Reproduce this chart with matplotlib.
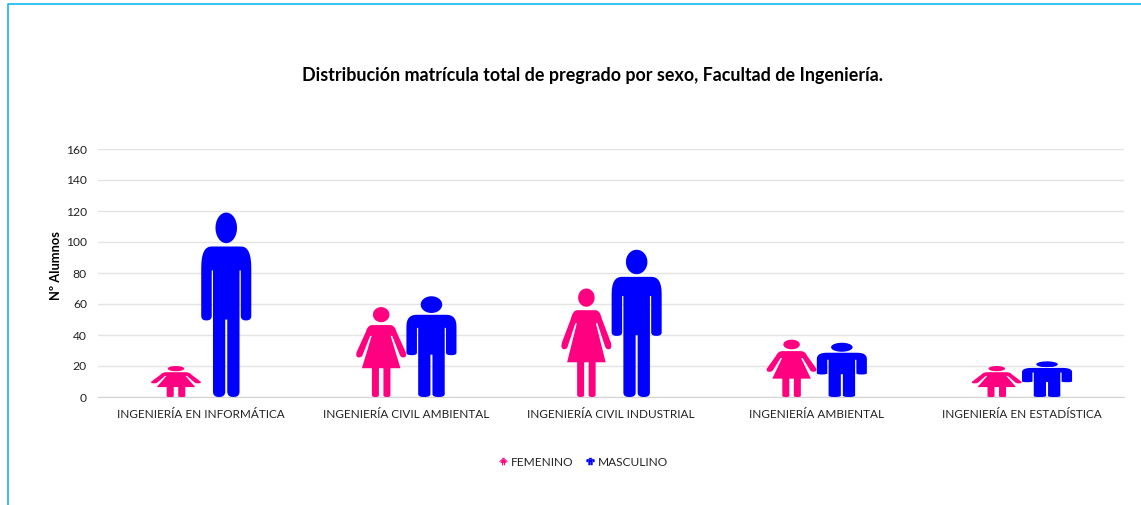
import matplotlib
matplotlib.use("Agg")
import matplotlib.pyplot as plt
import numpy as np
from matplotlib.lines import Line2D
from matplotlib.patches import PathPatch
from matplotlib.path import Path

carreras = ["INGENIERÍA EN INFORMÁTICA", "INGENIERÍA CIVIL AMBIENTAL", "INGENIERÍA CIVIL INDUSTRIAL",
            "INGENIERÍA AMBIENTAL", "INGENIERÍA EN ESTADÍSTICA"]
femenino = [20, 58, 70, 37, 20]
masculino = [119, 65, 95, 35, 23]
yticks = [0, 20, 40, 60, 80, 100, 120, 140, 160]

ROSA = "#ff0080"
AZUL = "#0000ff"
W = 1141
H = 505
ANCHO = 0.244  # ancho de cada figura en unidades de categoria
OFFSET_F = 0.12
OFFSET_M = 0.125


def q(p0, c, p1):
    t = np.linspace(0, 1, 8)[:, None]
    p0, c, p1 = np.array(p0), np.array(c), np.array(p1)
    return list((1 - t) ** 2 * p0 + 2 * t * (1 - t) * c + t ** 2 * p1)


def figura(mitad, head):
    # mitad derecha + espejo, mas la cabeza como elipse
    pts = np.array([np.array(p, dtype=float) for p in mitad])
    esp = pts[::-1] * [-1, 1]
    cuerpo = np.vstack([pts, esp, pts[:1]])
    cx, cy, rx, ry = head
    a = np.linspace(0, 2 * np.pi, 60)
    cabeza = np.column_stack([cx + rx * np.cos(a), cy + ry * np.sin(a)])
    return Path.make_compound_path(Path(cuerpo, closed=True), Path(cabeza, closed=True))


hombre = figura(
    [(0, .816), (.3, .816), *q((.3, .816), (.5, .816), (.5, .70)), (.5, .44),
     *q((.5, .44), (.5, .415), (.395, .415)), *q((.395, .415), (.29, .415), (.29, .44)),
     (.29, .686), (.265, .686), (.265, .03), *q((.265, .03), (.265, 0), (.145, 0)),
     *q((.145, 0), (.02, 0), (.02, .03)), (.02, .42), (0, .42)],
    (0, .917, .215, .083))

mujer = figura(
    [(0, .80), (.18, .80), *q((.18, .80), (.27, .80), (.31, .72)), (.49, .50),
     *q((.49, .50), (.52, .44), (.44, .44)), *q((.44, .44), (.39, .44), (.37, .47)),
     (.22, .68), (.19, .68), (.385, .32), (.185, .32), (.185, .02),
     *q((.185, .02), (.185, 0), (.115, 0)), *q((.115, 0), (.045, 0), (.045, .02)),
     (.045, .32), (0, .32)],
    (0, .916, .165, .084))


def pinta(ax, shape, x, valor, color):
    v = shape.vertices * [ANCHO, valor] + [x, 0]
    ax.add_patch(PathPatch(Path(v, shape.codes), fc=color, ec="none", zorder=3))


plt.rcParams["font.family"] = ["Lato", "DejaVu Sans"]
fig = plt.figure(figsize=(W / 100, H / 100), dpi=100)
ax = fig.add_axes([98 / W, (H - 397) / H, 1026 / W, 248 / H])

for i in range(len(carreras)):
    pinta(ax, mujer, i - OFFSET_F, femenino[i], ROSA)
    pinta(ax, hombre, i + OFFSET_M, masculino[i], AZUL)

ax.set_xlim(-0.5, 4.5)
ax.set_ylim(0, 160)
ax.set_yticks(yticks)
ax.set_xticks(range(len(carreras)))
ax.set_xticklabels(carreras, fontsize=8.45, color="#222222")
ax.tick_params(axis="both", length=0, labelcolor="#222222")
ax.tick_params(axis="x", pad=9)
ax.tick_params(axis="y", pad=8, labelsize=8.7)
ax.grid(axis="y", color="#e4e4e4", lw=1)
ax.set_axisbelow(True)
for s in ["top", "right", "left"]:
    ax.spines[s].set_visible(False)
ax.spines["bottom"].set_color("#d4d4d4")
ax.set_ylabel("Nº Alumnos", fontsize=9.3, fontweight="bold")
ax.yaxis.set_label_coords((62 - 98) / 1026, 0.53)

fig.text(592 / W, 1 - 76 / H, "Distribución matrícula total de pregrado por sexo, Facultad de Ingeniería.",
         ha="center", va="center", fontsize=12.9, fontweight="bold", color="black")

# marco celeste de la imagen
fig.add_artist(Line2D([8 / W, 8 / W, 1], [0, 1 - 4 / H, 1 - 4 / H], color="#00b0f0", lw=1.1))

marca_f = Path(mujer.vertices * [1, 0.9] - [0, 0.45], mujer.codes)
marca_m = Path(hombre.vertices * [1, 0.9] - [0, 0.45], hombre.codes)
handles = [Line2D([], [], ls="none", marker=marca_f, color=ROSA, ms=6, mew=0),
           Line2D([], [], ls="none", marker=marca_m, color=AZUL, ms=6, mew=0)]
fig.legend(handles, ["FEMENINO", "MASCULINO"], ncol=2, frameon=False, fontsize=8.6,
           loc="center", bbox_to_anchor=(583 / W, 1 - 462 / H), handlelength=0.9,
           handletextpad=0.25, columnspacing=0.9, labelcolor="#222222")

fig.savefig("out.png", dpi=100)
